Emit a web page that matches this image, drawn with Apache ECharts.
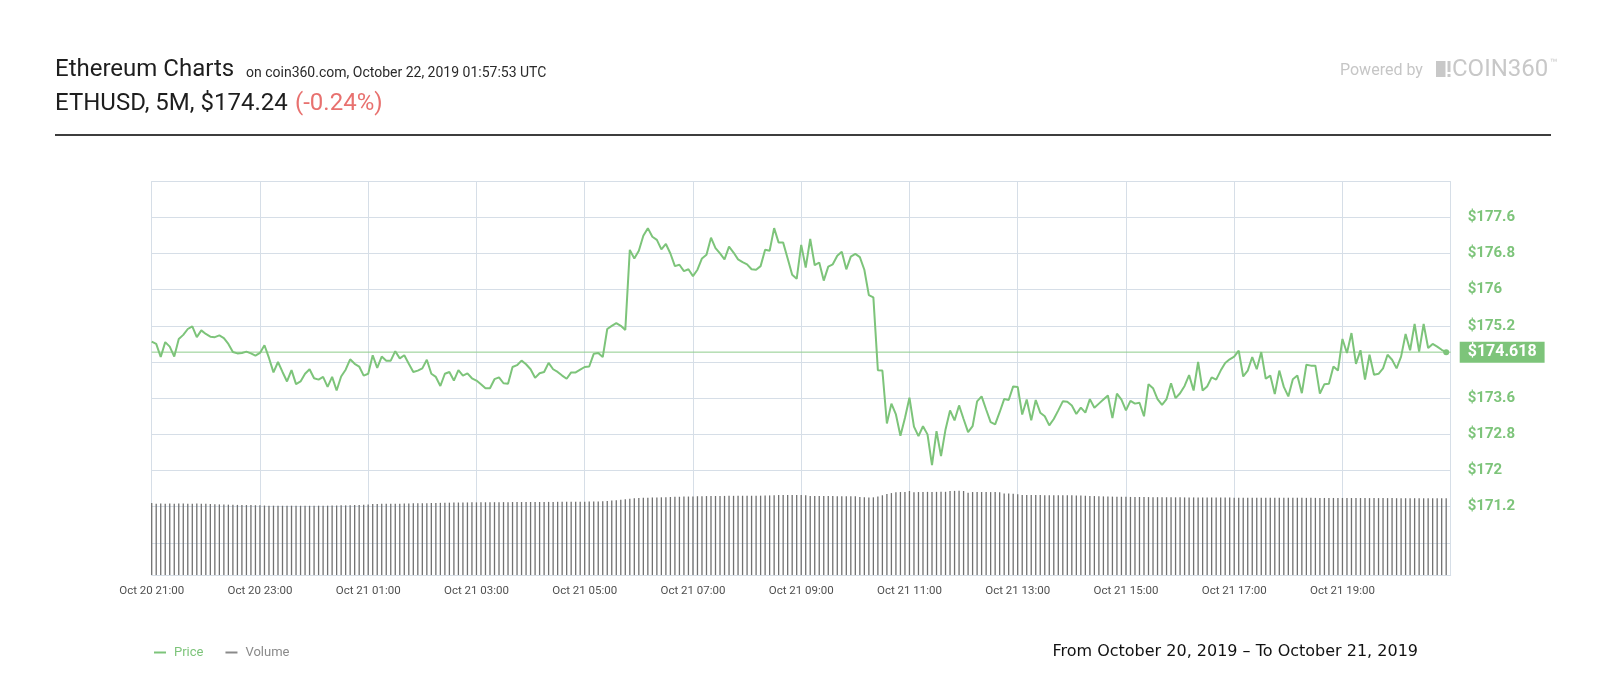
<!DOCTYPE html>
<html><head><meta charset="utf-8">
<script src="https://cdn.jsdelivr.net/npm/echarts@6/dist/echarts.min.js"></script>
<style>html,body{margin:0;padding:0;background:#fff}#c{width:1600px;height:700px}</style>
</head><body><div id="c"></div>
<script>
const MONTHS = ['Jan','Feb','Mar','Apr','May','Jun','Jul','Aug','Sep','Oct','Nov','Dec'];
const startUTC = Date.UTC(2019, 9, 20, 21, 0);
const stepMinutes = 5;
const slotCount = 289;
const pad = n => (n < 10 ? '0' : '') + n;
const timeLabels = [];
for (let i = 0; i < slotCount; i++) {
  const t = new Date(startUTC + i * stepMinutes * 60000);
  timeLabels.push(MONTHS[t.getUTCMonth()] + ' ' + t.getUTCDate() + ' ' + pad(t.getUTCHours()) + ':' + pad(t.getUTCMinutes()));
}
const price = [
174.85,174.80,174.51,174.84,174.74,174.52,174.91,175.00,175.13,175.19,
174.95,175.10,175.02,174.96,174.95,174.99,174.93,174.80,174.62,174.59,
174.60,174.63,174.59,174.54,174.60,174.77,174.49,174.17,174.40,174.18,
173.97,174.22,173.91,173.97,174.14,174.24,174.04,174.01,174.07,173.85,
174.07,173.77,174.08,174.23,174.46,174.36,174.30,174.10,174.14,174.55,
174.27,174.52,174.43,174.43,174.64,174.48,174.55,174.36,174.18,174.21,
174.26,174.45,174.14,174.07,
173.87,174.14,174.18,173.99,174.22,174.10,174.15,174.04,173.99,173.91,
173.82,173.82,174.02,174.06,173.93,173.92,174.29,174.33,174.43,174.35,
174.24,174.05,174.15,174.18,174.38,174.24,174.18,174.10,174.03,174.17,
174.17,174.23,174.29,174.30,174.58,174.60,174.51,175.13,175.20,175.26,
175.20,175.11,
176.88,176.69,176.86,177.19,177.36,177.17,177.10,176.89,177.01,176.80,
176.52,176.55,176.41,176.45,176.30,176.44,176.69,176.77,177.15,176.92,
176.80,176.67,176.95,176.82,176.67,176.61,176.56,176.45,176.44,176.52,
176.88,176.86,177.36,177.04,177.04,176.69,176.33,176.24,176.99,176.49,
177.12,176.54,176.60,176.20,176.51,176.56,176.75,176.84,176.45,176.73,
176.79,176.72,176.44,175.88,175.83,
174.22,174.21,173.04,173.48,173.24,172.77,173.16,173.61,172.97,172.76,
172.98,172.80,172.12,172.87,172.32,172.91,173.33,173.11,173.44,173.14,
172.85,172.98,173.53,173.64,173.35,173.07,173.02,173.29,173.58,173.56,
173.86,173.85,173.24,173.57,173.11,173.56,173.28,173.20,173.00,173.14,
173.33,173.53,173.52,173.44,173.25,173.39,173.28,173.58,173.39,173.48,
173.57,173.66,173.16,173.70,173.57,173.33,173.54,173.48,173.50,
173.20,173.91,173.82,173.58,173.45,173.58,173.93,173.60,173.71,173.87,
174.11,173.77,174.40,173.77,173.86,174.06,174.01,174.21,174.38,174.46,
174.52,174.65,174.08,174.21,174.51,174.24,174.62,174.03,174.10,173.69,
174.21,173.85,173.64,174.02,174.10,
173.71,174.34,174.32,174.32,173.70,173.91,173.92,174.30,174.21,174.91,
174.60,175.04,174.36,174.66,174.01,174.56,174.12,174.14,174.26,174.56,
174.45,174.26,174.52,175.02,174.66,175.24,174.63,175.24,174.71,174.80,
174.74,174.67,174.618
];
const volume = [
914,905,908,905,908,905,908,908,905,905,908,905,905,
900,898,896,895,893,893,890,890,888,888,886,886,
882,880,880,879,879,879,880,879,879,878,879,880,880,879,880,882,882,884,884,886,888,890,893,896,
900,902,904,905,905,906,906,908,908,910,910,912,912,914,914,
916,918,918,920,920,921,921,922,922,923,923,924,924,925,925,925,926,926,926,926,927,927,927,928,928,928,929,929,930,930,930,931,931,932,932,934,936,
940,945,950,955,962,968,
975,978,980,982,984,985,986,988,990,992,993,995,996,998,
1000,1001,1002,1003,1003,1004,1004,1005,1005,1005,1006,1006,1006,1007,1007,1008,1010,1012,
1015,1015,1015,1015,1014,1014,1013,
1003,1003,1002,1002,1002,1002,1001,1001,1000,1000,999,
990,986,985,986,998,1012,1028,1040,1050,1053,1055,1066,
1050,1053,1053,1055,1055,1055,1056,1056,1066,1068,1068,1066,
1045,1053,1053,1053,1053,1052,1052,1050,1036,1034,1030,1025,
1016,1015,1015,1014,1014,1013,1013,1013,1012,1012,1011,1011,1010,
1008,1006,1004,1002,1000,998,996,995,994,993,992,991,990,990,989,989,988,988,987,987,986,986,986,985,985,985,984,984,984,984,
983,983,983,983,982,982,982,982,981,981,981,981,981,980,980,980,980,980,979,979,979,979,979,978,978,978,978,978,978,977,977,977,977,977,976,976,976,976,976,976,975,975,975,975,975,975,974,974,974,974,974,973
];
const priceAxis = { min: 169.6, max: 178.4, step: 0.8, firstLabel: 171.2 };
const volumeAxisMax = 5000;
const labelEvery = 24;
const lastPrice = price[price.length - 1];
const GREEN = '#7dc47a';
const GRIDC = '#d6dee7';

// current-price guide: spans the whole time range at the last price
const guideData = [[timeLabels[0], lastPrice], [timeLabels[slotCount - 1], lastPrice]];

const chart = echarts.init(document.getElementById('c'), null, { renderer: 'canvas' });
chart.setOption({
  animation: false,
  backgroundColor: '#ffffff',
  grid: [
    { left: 151.7, right: 149.3, top: 181.1, height: 398 },
    { left: 151.7, right: 149.3, top: 181.1, bottom: 125 }
  ],
  xAxis: [
    { type: 'category', gridIndex: 0, data: timeLabels, boundaryGap: false, show: false },
    { type: 'category', gridIndex: 1, data: timeLabels, boundaryGap: false,
      axisLine: { show: true, lineStyle: { color: GRIDC } },
      axisTick: { show: false },
      axisLabel: { interval: (i) => i % labelEvery === 0 && i < slotCount - 1, color: '#505050', fontSize: 11.5, fontFamily: 'Roboto', margin: 10 },
      splitLine: { show: true, interval: (i) => i % labelEvery === 0, lineStyle: { color: GRIDC, width: 1 } } }
  ],
  yAxis: [
    { type: 'value', gridIndex: 0, position: 'right', min: priceAxis.min, max: priceAxis.max, interval: priceAxis.step,
      axisLine: { show: false }, axisTick: { show: false },
      axisLabel: { color: GREEN, fontSize: 15, fontWeight: 'bold', fontFamily: 'Roboto', margin: 17,
        showMinLabel: false, showMaxLabel: false,
        formatter: v => ((Math.abs(v - lastPrice) < 0.3 || v < priceAxis.firstLabel - 0.01) ? '' : '$' + (+v.toFixed(1))) },
      splitLine: { show: true, showMinLine: false, lineStyle: { color: GRIDC, width: 1 } } },
    { type: 'value', gridIndex: 1, min: 0, max: volumeAxisMax, show: false, splitLine: { show: false } }
  ],
  legend: {
    left: 149, top: 641, itemWidth: 12, itemHeight: 2, itemGap: 22, icon: 'rect',
    textStyle: { fontSize: 13, fontFamily: 'Roboto', padding: [0, 0, 0, 3] },
    data: [
      { name: 'Price', textStyle: { color: GREEN }, itemStyle: { color: GREEN } },
      { name: 'Volume', textStyle: { color: '#8a8a8a' }, itemStyle: { color: '#8a8a8a' } }
    ]
  },
  series: [
    { type: 'bar', name: 'Volume', xAxisIndex: 1, yAxisIndex: 1, data: volume, barWidth: 1.3,
      itemStyle: { color: '#717171' }, silent: true, z: 1 },
    { type: 'line', name: 'guide', xAxisIndex: 0, yAxisIndex: 0, data: guideData, showSymbol: false, silent: true,
      lineStyle: { color: '#8fcc8b', width: 1 }, z: 2,
      markPoint: { silent: true, symbol: 'rect', symbolSize: 0,
        label: { show: true, position: 'right', distance: 9, formatter: '$' + lastPrice, backgroundColor: GREEN, color: '#fff',
          fontSize: 16, fontWeight: 'bold', fontFamily: 'Roboto', padding: [3, 8, 2, 8] },
        data: [{ coord: [timeLabels[slotCount - 1], lastPrice] }] } },
    { type: 'line', name: 'Price', xAxisIndex: 0, yAxisIndex: 0, data: price,
      symbol: 'circle', showSymbol: true, showAllSymbol: true,
      symbolSize: (v, p) => (p.dataIndex === price.length - 1 ? 6 : 0),
      lineStyle: { color: GREEN, width: 2 }, itemStyle: { color: GREEN }, z: 3 }
  ],
  graphic: [
    { type: 'text', x: 55, y: 70, style: { text: 'Ethereum Charts', font: '24px Roboto', fill: '#1e1e1e', verticalAlign: 'middle' } },
    { type: 'text', x: 246, y: 73.5, style: { text: 'on coin360.com, October 22, 2019 01:57:53 UTC', font: '14px Roboto', fill: '#2a2a2a', verticalAlign: 'middle' } },
    { type: 'text', x: 55, y: 103.5, style: { text: 'ETHUSD, 5M, $174.24', font: '24px Roboto', fill: '#1e1e1e', verticalAlign: 'middle' } },
    { type: 'text', x: 295, y: 103.5, style: { text: '(-0.24%)', font: '24px Roboto', fill: '#e8716f', verticalAlign: 'middle' } },
    { type: 'rect', shape: { x: 55, y: 134, width: 1496, height: 2 }, style: { fill: '#3d3d3d' } },
    { type: 'text', x: 1340, y: 70.5, style: { text: 'Powered by', font: '16px Roboto', fill: '#c6c6c6', verticalAlign: 'middle' } },
    { type: 'rect', shape: { x: 1436, y: 61, width: 9.5, height: 16 }, style: { fill: '#c8c8c8' } },
    { type: 'rect', shape: { x: 1447.5, y: 61, width: 3, height: 11 }, style: { fill: '#c8c8c8' } },
    { type: 'rect', shape: { x: 1447.5, y: 74, width: 3, height: 3 }, style: { fill: '#c8c8c8' } },
    { type: 'text', x: 1452, y: 69.5, style: { text: 'COIN360', font: '24px Roboto', fill: '#c8c8c8', verticalAlign: 'middle' } },
    { type: 'text', x: 1550, y: 64, style: { text: '™', font: '12px Roboto', fill: '#c8c8c8', verticalAlign: 'middle' } },
    { type: 'text', x: 1418, y: 652, style: { text: 'From October 20, 2019 \u2013 To October 21, 2019', font: '16px "DejaVu Sans"', fill: '#111', align: 'right', verticalAlign: 'middle' } }
  ]
});
</script>
</body></html>
